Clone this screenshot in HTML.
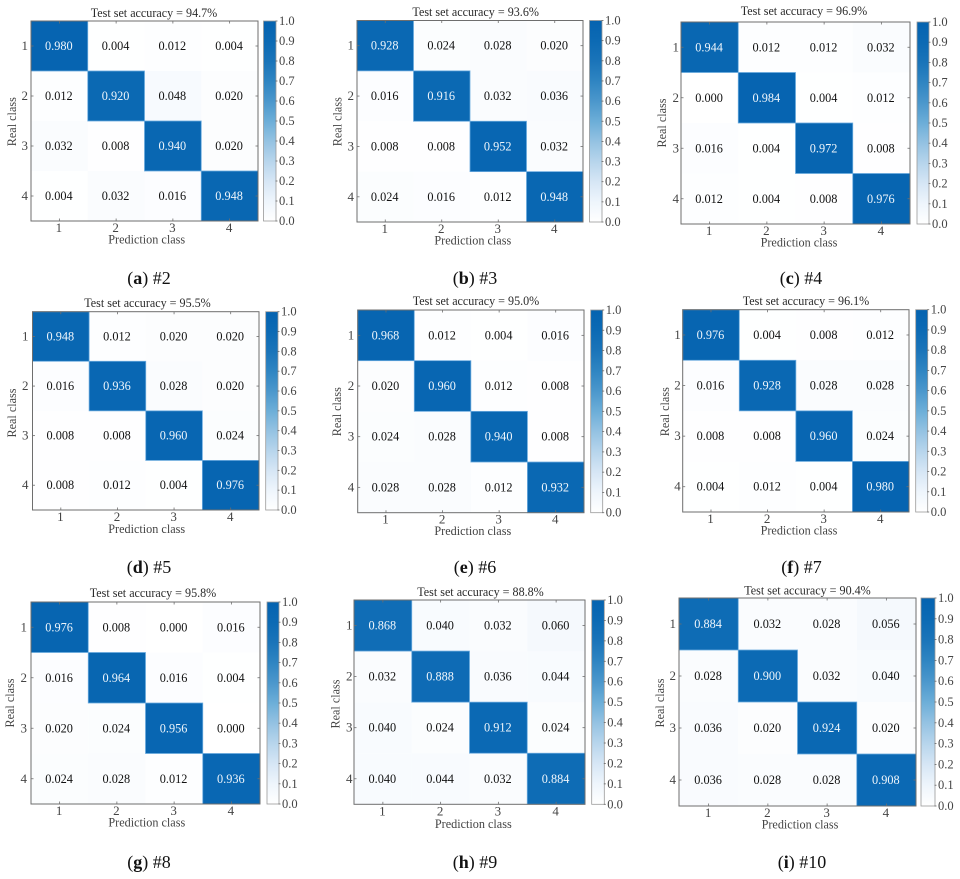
<!DOCTYPE html>
<html lang="en">
<head>
<meta charset="utf-8">
<title>Confusion matrices</title>
<style>
html,body{margin:0;padding:0;background:#fff;overflow:hidden;}
svg{display:block;font-family:"Liberation Serif",serif;filter:blur(0.35px);}
</style>
</head>
<body>
<svg id="chart" width="960" height="879" viewBox="0 0 960 879" xmlns="http://www.w3.org/2000/svg">
<defs>
<linearGradient id="cbGrad" x1="0" y1="1" x2="0" y2="0"></linearGradient>
</defs>
<rect x="0" y="0" width="960" height="879" fill="#fff"></rect>
</svg>
<script>
const categories = ['1', '2', '3', '4'];
const colorbarTicks = [0.0, 0.1, 0.2, 0.3, 0.4, 0.5, 0.6, 0.7, 0.8, 0.9, 1.0];
const panelLetters = ['a', 'b', 'c', 'd', 'e', 'f', 'g', 'h', 'i'];
const experimentIds = ['#2', '#3', '#4', '#5', '#6', '#7', '#8', '#9', '#10'];
const accuracies = ['94.7', '93.6', '96.9', '95.5', '95.0', '96.1', '95.8', '88.8', '90.4'];

const matrixA = [[0.980, 0.004, 0.012, 0.004], [0.012, 0.920, 0.048, 0.020], [0.032, 0.008, 0.940, 0.020], [0.004, 0.032, 0.016, 0.948]];
const matrixB = [[0.928, 0.024, 0.028, 0.020], [0.016, 0.916, 0.032, 0.036], [0.008, 0.008, 0.952, 0.032], [0.024, 0.016, 0.012, 0.948]];
const matrixC = [[0.944, 0.012, 0.012, 0.032], [0.000, 0.984, 0.004, 0.012], [0.016, 0.004, 0.972, 0.008], [0.012, 0.004, 0.008, 0.976]];
const matrixD = [[0.948, 0.012, 0.020, 0.020], [0.016, 0.936, 0.028, 0.020], [0.008, 0.008, 0.960, 0.024], [0.008, 0.012, 0.004, 0.976]];
const matrixE = [[0.968, 0.012, 0.004, 0.016], [0.020, 0.960, 0.012, 0.008], [0.024, 0.028, 0.940, 0.008], [0.028, 0.028, 0.012, 0.932]];
const matrixF = [[0.976, 0.004, 0.008, 0.012], [0.016, 0.928, 0.028, 0.028], [0.008, 0.008, 0.960, 0.024], [0.004, 0.012, 0.004, 0.980]];
const matrixG = [[0.976, 0.008, 0.000, 0.016], [0.016, 0.964, 0.016, 0.004], [0.020, 0.024, 0.956, 0.000], [0.024, 0.028, 0.012, 0.936]];
const matrixH = [[0.868, 0.040, 0.032, 0.060], [0.032, 0.888, 0.036, 0.044], [0.040, 0.024, 0.912, 0.024], [0.040, 0.044, 0.032, 0.884]];
const matrixI = [[0.884, 0.032, 0.028, 0.056], [0.028, 0.900, 0.032, 0.040], [0.036, 0.020, 0.924, 0.020], [0.036, 0.028, 0.028, 0.908]];
const matrices = [matrixA, matrixB, matrixC, matrixD, matrixE, matrixF, matrixG, matrixH, matrixI];

/* Layout of each subplot frame (not data). */
const frames = {
  a: {x0: 31,    x1: 258,   y0: 21,    y1: 221,   cb0: 263.5, cb1: 276,   gap: 3,   titleX: 154,   titleY: 17,    xlabX: 146.7, xlabY: 243.5, ylabX: 16,    ylabY: 121.7, capX: 149,   capY: 284},
  b: {x0: 357,   x1: 583,   y0: 20.5,  y1: 222,   cb0: 589.5, cb1: 602,   gap: 3,   titleX: 475.7, titleY: 16,    xlabX: 472.8, xlabY: 244.5, ylabX: 341.5, ylabY: 121.7, capX: 475,   capY: 284},
  c: {x0: 681,   x1: 910,   y0: 22,    y1: 224,   cb0: 917,   cb1: 929,   gap: 2,   titleX: 804,   titleY: 15,    xlabX: 799,   xlabY: 246.5, ylabX: 666,   ylabY: 123,   capX: 801,   capY: 284},
  d: {x0: 32.5,  x1: 259,   y0: 311.7, y1: 510,   cb0: 265.7, cb1: 278,   gap: 4,   titleX: 147.5, titleY: 307,   xlabX: 146.7, xlabY: 533,   ylabX: 16,    ylabY: 413,   capX: 149,   capY: 573},
  e: {x0: 357.7, x1: 584,   y0: 310,   y1: 512.7, cb0: 590.7, cb1: 602.7, gap: 3.5, titleX: 476,   titleY: 305,   xlabX: 472.8, xlabY: 535,   ylabX: 341,   ylabY: 411.7, capX: 475,   capY: 573},
  f: {x0: 682.7, x1: 909,   y0: 309.7, y1: 512,   cb0: 915.7, cb1: 927.7, gap: 2,   titleX: 806,   titleY: 305,   xlabX: 799,   xlabY: 534.5, ylabX: 669,   ylabY: 411.7, capX: 801.5, capY: 573},
  g: {x0: 31,    x1: 260,   y0: 602,   y1: 804,   cb0: 267,   cb1: 279,   gap: 4,   titleX: 153,   titleY: 597,   xlabX: 146.8, xlabY: 826.5, ylabX: 14,    ylabY: 703,   capX: 149,   capY: 868},
  h: {x0: 354,   x1: 585,   y0: 600,   y1: 804.3, cb0: 591.7, cb1: 604.3, gap: 1.5, titleX: 480.5, titleY: 596,   xlabX: 473.3, xlabY: 828,   ylabX: 339.7, ylabY: 704,   capX: 475,   capY: 868},
  i: {x0: 679,   x1: 916,   y0: 598,   y1: 806,   cb0: 921,   cb1: 935,   gap: 3,   titleX: 807.5, titleY: 594.7, xlabX: 800,   xlabY: 828.5, ylabX: 664,   ylabY: 703,   capX: 802,   capY: 868}
};

/* Colour map palette sampled from the colour bar. */
const cmapStops = [
  [0.00, [255, 255, 255]], [0.10, [238, 245, 252]], [0.20, [214, 230, 245]],
  [0.30, [183, 213, 236]], [0.40, [148, 194, 226]], [0.50, [108, 174, 216]],
  [0.60, [75, 151, 204]],  [0.70, [47, 133, 194]],  [0.80, [26, 116, 185]],
  [0.90, [12, 106, 180]],  [1.00, [5, 99, 176]]
];
function cmap(v) {
  const t = Math.max(0, Math.min(1, v));
  for (let k = 1; k < cmapStops.length; k++) {
    if (t <= cmapStops[k][0]) {
      const a = cmapStops[k - 1], b = cmapStops[k];
      const f = (t - a[0]) / (b[0] - a[0]);
      const c = a[1].map((m, n) => Math.round(m + (b[1][n] - m) * f));
      return 'rgb(' + c.join(',') + ')';
    }
  }
  return 'rgb(5,99,176)';
}

const NS = 'http://www.w3.org/2000/svg';
const svg = document.getElementById('chart');
function mk(tag, attrs, parent, txt) {
  const el = document.createElementNS(NS, tag);
  for (const k in attrs) el.setAttribute(k, attrs[k]);
  if (txt !== undefined) el.textContent = txt;
  parent.appendChild(el);
  return el;
}

const grad = svg.querySelector('#cbGrad');
cmapStops.forEach(s => {
  mk('stop', {offset: s[0], 'stop-color': cmap(s[0])}, grad);
});

const AXIS = '#6e6e6e';
const TICKTXT = '#444';

function drawPanel(p) {
  const letter = panelLetters[p];
  const f = frames[letter];
  const data = matrices[p];
  const n = categories.length;
  const cw = (f.x1 - f.x0) / n, ch = (f.y1 - f.y0) / n;
  const xScale = i => f.x0 + (i + 0.5) * cw;
  const yScale = i => f.y0 + (i + 0.5) * ch;
  const cbScale = v => f.y1 - v * (f.y1 - f.y0);

  const g = mk('g', {}, svg);
  
  

  const title = mk('text', {x: f.titleX, y: f.titleY, 'text-anchor': 'middle', 'font-size': 12.1, fill: '#2b2b2b'}, g, 'Test set accuracy = ' + accuracies[p] + '%');
  
  

  /* off-diagonal cells first so the strong cells' borders sit on top */
  const order = [];
  data.forEach((row, r) => row.forEach((v, c) => order.push({r, c, v})));
  order.sort((m, o) => m.v - o.v);
  order.forEach(o => {
    const strong = o.v > 0.5;
    const cell = mk('rect', {
      x: xScale(o.c) - cw / 2, y: yScale(o.r) - ch / 2, width: cw, height: ch,
      fill: cmap(o.v),
      stroke: strong ? '#6aaade' : 'none', 'stroke-width': strong ? 0.8 : 0
    }, g);
    
    
  });
  order.forEach(o => {
    const label = mk('text', {
      x: xScale(o.c) - 0.5, y: yScale(o.r) + 4, 'text-anchor': 'middle', 'font-size': 12.3,
      fill: o.v > 0.5 ? '#eef5fb' : '#111'
    }, g, o.v.toFixed(3));
    
    
  });

  const frame = mk('rect', {x: f.x0, y: f.y0, width: f.x1 - f.x0, height: f.y1 - f.y0, fill: 'none', stroke: AXIS, 'stroke-width': 1}, g);
  
  

  categories.forEach((cat, i) => {
    const x = xScale(i), y = yScale(i);
    [[x, f.y1, x, f.y1 - 2.5], [x, f.y0, x, f.y0 + 2.5], [f.x0, y, f.x0 + 2.5, y], [f.x1, y, f.x1 - 2.5, y]].forEach(t => {
      const tick = mk('line', {x1: t[0], y1: t[1], x2: t[2], y2: t[3], stroke: AXIS, 'stroke-width': 0.8}, g);
      
      
    });
    const xt = mk('text', {x: x - 0.5, y: f.y1 + 11, 'text-anchor': 'middle', 'font-size': 13, fill: TICKTXT}, g, cat);
    
    
    const yt = mk('text', {x: f.x0 - f.gap, y: y + 4, 'text-anchor': 'end', 'font-size': 13, fill: TICKTXT}, g, cat);
    
    
  });

  const xl = mk('text', {x: f.xlabX, y: f.xlabY, 'text-anchor': 'middle', 'font-size': 12.2, fill: TICKTXT}, g, 'Prediction class');
  
  
  const yl = mk('text', {x: f.ylabX, y: f.ylabY, 'text-anchor': 'middle', 'font-size': 12.2, fill: TICKTXT, transform: 'rotate(-90 ' + f.ylabX + ' ' + f.ylabY + ')'}, g, 'Real class');
  
  

  const bar = mk('rect', {x: f.cb0, y: f.y0, width: f.cb1 - f.cb0, height: f.y1 - f.y0, fill: 'url(#cbGrad)', stroke: '#999', 'stroke-width': 0.8}, g);
  
  
  colorbarTicks.forEach(v => {
    const y = cbScale(v);
    const tick = mk('line', {x1: f.cb1 - 0.5, y1: y, x2: f.cb1 + 1.5, y2: y, stroke: '#666', 'stroke-width': 0.8}, g);
    
    
    const lab = mk('text', {x: f.cb1 + 3, y: y + 4, 'font-size': 12.5, fill: TICKTXT}, g, v.toFixed(1));
    
    
  });

  const cap = mk('text', {x: f.capX, y: f.capY, 'text-anchor': 'middle', 'font-size': 18, fill: '#111'}, g);
  
  
  mk('tspan', {}, cap, '(');
  mk('tspan', {'font-weight': 'bold'}, cap, letter);
  mk('tspan', {}, cap, ') ' + experimentIds[p]);
}

matrices.forEach((m, p) => drawPanel(p));
</script>
</body>
</html>
